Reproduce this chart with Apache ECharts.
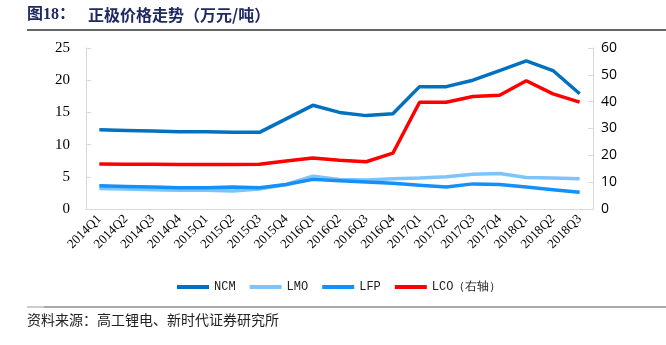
<!DOCTYPE html>
<html><head><meta charset="utf-8">
<script src="https://cdn.jsdelivr.net/npm/echarts@6/dist/echarts.min.js"></script>
<style>html,body{margin:0;padding:0;background:#fff}#c{width:666px;height:345px}</style>
</head><body><div id="c"></div>
<script>
const categories = ['2014Q1','2014Q2','2014Q3','2014Q4','2015Q1','2015Q2','2015Q3','2015Q4','2016Q1','2016Q2','2016Q3','2016Q4','2017Q1','2017Q2','2017Q3','2017Q4','2018Q1','2018Q2','2018Q3'];
const ncm = [12.3,12.2,12.1,12.0,12.0,11.9,11.9,14.0,16.1,15.0,14.5,14.8,19.0,19.0,20.0,21.5,23.0,21.5,17.9];
const lmo = [3.2,3.1,3.0,2.9,2.9,2.8,3.1,3.8,5.1,4.6,4.5,4.7,4.8,5.0,5.4,5.5,4.9,4.8,4.7];
const lfp = [3.6,3.5,3.4,3.3,3.3,3.4,3.3,3.8,4.6,4.4,4.2,4.0,3.7,3.4,3.9,3.8,3.4,3.0,2.6];
const lco = [16.8,16.7,16.7,16.6,16.6,16.6,16.7,17.9,19.0,18.2,17.6,20.8,39.8,39.8,41.9,42.4,47.8,42.9,39.8];
const leftTicks = [0,5,10,15,20,25];
const rightTicks = [0,10,20,30,40,50,60];

const chart = echarts.init(document.getElementById('c'));
const serif = '"Liberation Serif","Times New Roman",serif';
const axisGray = '#d9d9d9';
chart.setOption({
  animation:false,
  grid:{left:86,right:73,top:48,bottom:136,containLabel:false},
  legend:{
    left:172, top:276, icon:'rect', itemWidth:32, itemHeight:4, itemGap:14,
    textStyle:{fontFamily:'"Liberation Mono","DejaVu Sans Mono",monospace', fontSize:12, color:'#222'},
    data:['NCM','LMO','LFP','LCO（右轴）']
  },
  xAxis:{
    type:'category', data:categories, boundaryGap:true,
    axisLine:{lineStyle:{color:axisGray}}, axisTick:{show:false},
    axisLabel:{rotate:45, interval:0, fontFamily:serif, fontSize:13, color:'#000', margin:8}
  },
  yAxis:[
    {type:'value', min:leftTicks[0], max:leftTicks[leftTicks.length-1], interval:5,
     axisLine:{show:true,lineStyle:{color:axisGray}}, axisTick:{show:true,inside:true,length:5,lineStyle:{color:axisGray}},
     splitLine:{show:false}, axisLabel:{fontFamily:serif, fontSize:15, color:'#000', margin:16}},
    {type:'value', min:rightTicks[0], max:rightTicks[rightTicks.length-1], interval:10, position:'right',
     axisLine:{show:true,lineStyle:{color:axisGray}}, axisTick:{show:true,inside:true,length:5,lineStyle:{color:axisGray}},
     splitLine:{show:false}, axisLabel:{fontFamily:'"Open Sans","Liberation Sans",sans-serif', fontSize:14, color:'#000', margin:8}}
  ],
  series:[
    {name:'NCM', type:'line', data:ncm, yAxisIndex:0, showSymbol:false, lineStyle:{width:3.5,color:'#0070C0'}, itemStyle:{color:'#0070C0'}},
    {name:'LMO', type:'line', data:lmo, yAxisIndex:0, showSymbol:false, lineStyle:{width:3.5,color:'#7CC4FA'}, itemStyle:{color:'#7CC4FA'}},
    {name:'LFP', type:'line', data:lfp, yAxisIndex:0, showSymbol:false, lineStyle:{width:3.5,color:'#1490FA'}, itemStyle:{color:'#1490FA'}},
    {name:'LCO（右轴）', type:'line', data:lco, yAxisIndex:1, showSymbol:false, lineStyle:{width:3.5,color:'#FF0000'}, itemStyle:{color:'#FF0000'}}
  ],
  graphic:[
    {type:'text', left:27, top:7, style:{text:'图18：', font:'bold 16px "Liberation Serif","Noto Sans CJK SC",serif', fill:'#1F2A60'}},
    {type:'text', left:88, top:7, style:{text:'正极价格走势（万元/吨）', font:'bold 16px "Noto Sans CJK SC",sans-serif', fill:'#1F2A60'}},
    {type:'line', shape:{x1:27,y1:30,x2:666,y2:30}, style:{stroke:'#333',lineWidth:1.5}},
    {type:'line', shape:{x1:27,y1:307,x2:44,y2:307}, style:{stroke:'#aaa',lineWidth:1.2}},
    {type:'line', shape:{x1:44,y1:307,x2:666,y2:307}, style:{stroke:'#555',lineWidth:1.2}},
    {type:'text', left:27, top:313, style:{text:'资料来源：高工锂电、新时代证券研究所', font:'14px "Noto Sans CJK SC",sans-serif', fill:'#222'}}
  ]
});
</script></body></html>
